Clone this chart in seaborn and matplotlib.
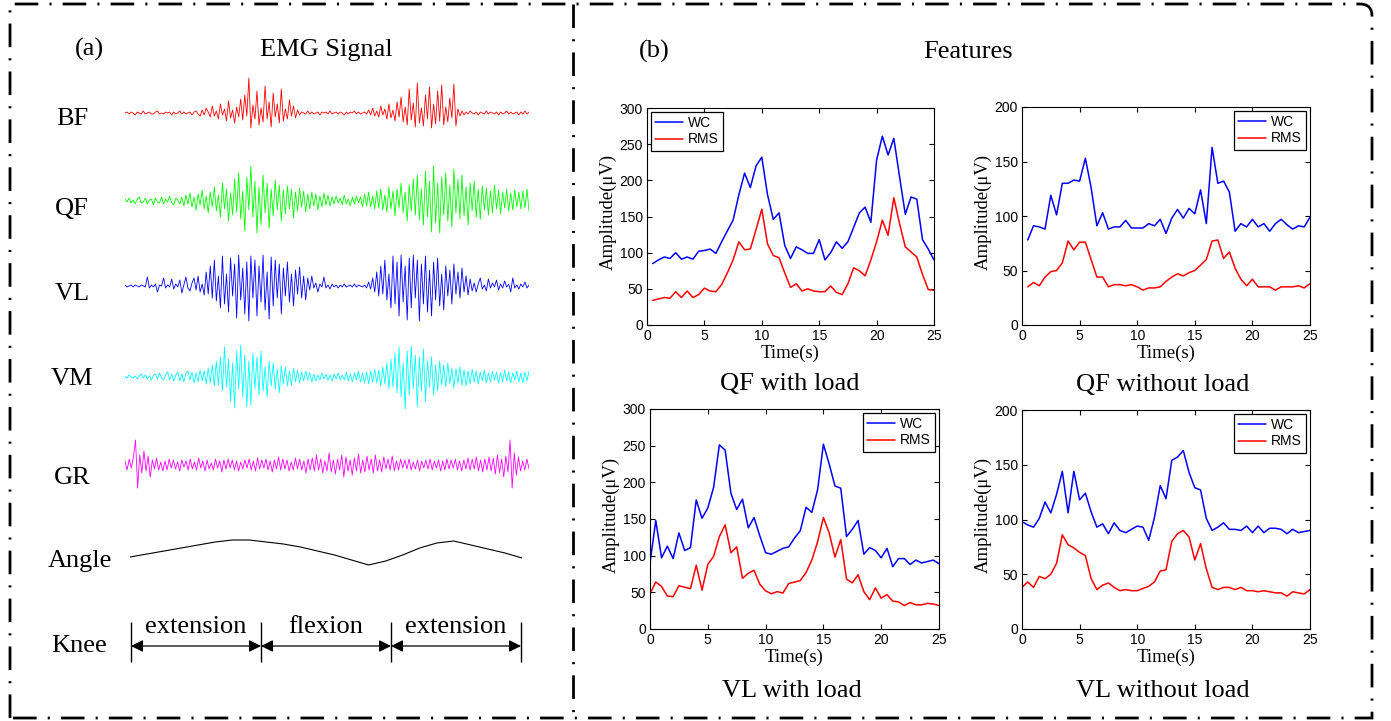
import numpy as np
import pandas as pd
import matplotlib
matplotlib.use("Agg")
import matplotlib.pyplot as plt
import seaborn as sns
from matplotlib.path import Path
from matplotlib.patches import PathPatch

# ---------------- data ----------------
# raw EMG traces (hand-read sample amplitudes, arbitrary units)
emg_bf = [0, 1, -1, 1, 0, -2, 1, 0, -1, 2, -1, 0, 1, -1, -1, 1, 2, -1, 0, -1, 1, 0, 1, -2, 1, -1, 0, 2, -1, 1, -1, 0, 1, -2, 1, 2, -1,
          -3, 3, -2, 5, 1, -4, 7, -3, 2, -6, 9, -2, 4, -8, 12, -5, 3, -10, 6, -4, 14, -7, 18, -3, 35, -15, 8, -6, 22, -12, 5, -9,
          27, -6, 11, -14, 20, -4, 9, -10, 24, -8, 4, -6, 13, -3, 7, -5, 3,
          -2, 1, 0, -1, 2, -1, 1, -1, 0, 1, -2, 1, 0, 1, -1, 2, -1, 0, 1, -1, 1, 0, -2, 1, -1, 1, 0, 2, -1, 1, -1, 0, 1, -1,
          3, -2, 5, -3, 2, -4, 7, -2, 4, -6, 9, -5, 3, -8, 11, -4, 16, -9, 6, -12, 24, -7, 10, -14, 30, -10, 5, -13, 18, -6,
          26, -15, 9, -11, 22, -8, 28, -12, 6, -9, 15, -5, 29, -13, 4, -3, 2,
          -2, 1, -1, 2, 0, -1, 1, -2, 1, 0, -1, 2, -1, 1, 0, -1, 1, -2, 1, -1, 0, 2, -1, 1, -1, 0, 1, -2, 1, -1, 2, -1, 1]
emg_qf = [2, -1, 3, -2, 1, -3, 2, 4, -2, -1, 3, -3, 1, 2, -4, 3, -1, -2, 4, -3, 2, -1, 5, -2, -4, 3, 1, -3, 4, -5,
          6, -3, 8, -6, 4, -9, 7, -4, 11, -8, 5, -12, 9, -6, 14, -10, 6, -16, 18, -8, 12, -20, 8, -14, 22, -11, 28, -18, 10, -30,
          24, -9, 35, -16, 20, -32, 14, -24, 26, -12, 18, -27, 12, -15, 21, -9, 16, -20, 11, -13, 15, -8, 12, -17, 9, -10, 13,
          -6, 10, -11, 7, -8, 9, -5, 7, -9, 5, -6, 8, -4, 6,
          -5, 4, -3, 5, -2, 3, -4, 6, -3, 2, -5, 4, -3, 5, -2, 4, -6,
          7, -5, 9, -6, 5, -8, 10, -7, 12, -9, 6, -11, 14, -8, 10, -15, 12, -7, 18, -12, 9, -20, 16, -10, 22, -14, 26, -19, 12,
          -24, 30, -16, 20, -31, 35, -22, 18, -32, 24, -14, 28, -20, 16, -26, 32, -12, 22, -18, 26, -15, 14, -24, 18, -10, 20,
          -16, 12, -18, 15, -9, 13, -14, 10, -12, 16, -8, 11, -13, 9, -7, 12, -10, 8, -9, 11, -6, 9, -8, 10, -7, 12, -10]
emg_vl = [1, -1, 0, 1, -1, 1, 0, -1, 1, 0,
          -1, 9, -2, 1, -1, 2, -6, 1, 0, 8, -2, 1, -1, 7, -3, 2, -1, 6, -7, 1, 9, -2, -5, 3, 8, -4, 10, -6, 2, -9,
          14, -8, 20, -12, 26, -15, 10, -22, 30, -18, 12, -26, 28, -10, 22, -32, 31, -14, 18, -28, 24, -35, 30, -12, 26, -30,
          20, -16, 31, -24, 14, -33, 29, -20, 26, -12, 22, -28, 18, -10, 24, -16, 12, -20, 16, -8, 19, -12, 10, -14, 8,
          -4, 10, -2, 3, -6, 2, -1, 9, -2, 1, -3, 2, -1, 1, -2,
          1, -1, 2, -1, 0, 1, -1, 2, -1, 1, 0, -1, 1, -2, 4, -3,
          8, -6, 14, -10, 20, -8, 26, -14, 12, -22, 30, -18, 24, -30, 31, -16, 20, -34, 28, -22, 31, -12, 26, -35, 22, -18,
          30, -26, 16, -30, 24, -14, 28, -20, 12, -24, 20, -10, 16, -18, 22, -8, 14, -12, 18, -6, 10, -9, 7, -5,
          3, -6, 2, 8, -3, 1, -5, 7, -2, 3, -1, 6, -4, 2, -2, 5, -1, 2, -6, 8, -2, 1, -3, 2, -1, 4, -2, 1]
emg_vm = [1, -1, 2, 0, -1, 1, -2, 1, 3, -1, 2, -2, 1, -3, 2, 3, -2, 4, -1, -3, 2, 5, -3, 3, -4, 2, 5, -4, 3, -5, 4, 6,
          -3, 5, -6, 4, -5, 7, -4, 6, -7,
          9, -6, 12, -9, 16, -8, 20, -14, 30, -10, 18, -24, 14, -31, 26, -12, 32, -20, 22, -30, 16, -28, 24, -12, 20, -18,
          26, -14, 10, -20, 16, -9, 14, -12, 8, -16, 11, -7, 10, -9, 6, -8, 9, -5, 7,
          -6, 5, -4, 6, -3, 4, -5, 3, -4, 2, -3, 4, -2, 3, -3, 2, -4, 3, -2, 4, -3, 2, -3, 5, -4, 3, -5, 4, -3, 6, -5, 4,
          -6, 5, -7, 6, -5, 8, -6, 7,
          -9, 10, -7, 14, -12, 18, -10, 24, -16, 30, -20, 14, -32, 26, -18, 31, -12, 22, -30, 20, -14, 28, -24, 16, -10,
          20, -18, 12, -14, 16, -8, 12, -10, 14, -7, 9, -11, 8, -6, 10, -8, 7, -9, 6, -7,
          8, -5, 6, -7, 5, -4, 7, -6, 4, -5, 6, -3, 5, -6, 4, -5, 7, -4, 5, -6, 4, -3, 6, -5, 4, -6, 5, -4, 6]
emg_gr = [4, -5, 6, -3, 8, 25, -23, 10, -8, 14, -6, 9, -12, 5, -4, 7, -5, 3, -6, 4, -5, 6, -3, 5, -4, 3, -6, 5, -2, 4,
          -5, 6, -4, 3, -5, 7, -3, 4, -6, 5, -4, 2, -5, 6, -3, 4, -7, 5, -4, 6, -3, 5, -5, 4, -6, 3, -4, 5, -3, 6,
          -5, 4, -6, 7, -4, 5, -3, 6, -5, 4, -7, 5, -4, 8, -5, 6, -4, 5, -6, 3, -5, 7, -4, 6, -5, 4, -8, 6, -5, 7,
          -6, 10, -5, 6, -8, 4, -6, 12, -7, 5, -9, 6, -5, 10, -12, 8, -6, 5, -10, 7, -6, 11, -8, 5, -7, 9, -5, 6,
          -8, 10, -6, 5, -7, 8, -4, 6, -5, 9, -6, 4, -5, 6, -3, 5, -4, 6, -5, 3, -4, 5, -6, 4, -3, 5, -4, 6, -5, 4,
          -3, 5, -6, 4, -5, 6, -4, 5, -3, 6, -5, 4, -6, 5, -4, 7, -5, 6, -4, 8, -6, 5, -7, 6, -5, 8, -6, 7, -9, 10,
          -8, 6, -12, 9, -7, 25, -23, 12, -10, 8, -6, 4, -5, 6, -4]
knee_angle = [8, 11, 14, 17, 20, 23, 25, 25, 23, 21, 18, 14, 10, 5, 0, 4, 10, 17, 22, 24, 20, 16, 12, 7]
knee_phases = ["extension", "flexion", "extension"]
knee_edges = [0, 1, 2, 3]
emg_labels = ["BF", "QF", "VL", "VM", "GR"]
emg_colors = ["#ff0000", "#00ff00", "#0000ff", "#00ffff", "#ff00ff"]

# features (WC / RMS, µV)
time_a = np.arange(0.5, 25.01, 0.5)   # QF recordings
time_b = np.arange(0.0, 25.01, 0.5)   # VL recordings
qf_load_wc = [85, 90, 94, 92, 100, 91, 94, 91, 102, 103,
              105, 99, 115, 130, 145, 180, 210, 190, 220, 232,
              180, 146, 155, 110, 92, 108, 104, 99, 99, 118,
              90, 100, 115, 106, 115, 135, 155, 163, 142, 228,
              261, 235, 258, 205, 153, 177, 174, 118, 105, 90]
qf_load_rms = [34, 36, 38, 37, 46, 38, 47, 38, 42, 51,
               47, 46, 56, 72, 90, 115, 104, 105, 132, 160,
               112, 96, 93, 72, 52, 57, 47, 50, 47, 46,
               46, 54, 45, 42, 57, 79, 75, 68, 90, 115,
               145, 124, 176, 140, 108, 101, 94, 70, 49, 48]
qf_free_wc = [78, 91, 90, 88, 119, 101, 130, 130, 133, 132,
              153, 126, 91, 103, 88, 90, 90, 96, 89, 89,
              89, 93, 91, 97, 84, 98, 106, 98, 107, 102,
              124, 93, 163, 130, 132, 122, 86, 93, 90, 97,
              90, 93, 86, 93, 97, 92, 88, 91, 90, 99]
qf_free_rms = [35, 39, 36, 44, 49, 50, 57, 77, 69, 76,
               76, 60, 44, 44, 35, 37, 37, 36, 37, 35,
               32, 34, 34, 35, 40, 44, 47, 45, 48, 50,
               55, 60, 77, 78, 61, 67, 52, 42, 36, 42,
               35, 35, 35, 32, 35, 35, 35, 36, 34, 38]
vl_load_wc = [90, 148, 97, 113, 96, 131, 107, 111, 176, 151,
              165, 193, 251, 244, 185, 163, 177, 138, 152, 127,
              104, 102, 106, 110, 112, 124, 134, 166, 159, 190,
              252, 225, 195, 192, 126, 136, 148, 102, 111, 107,
              97, 110, 85, 96, 96, 88, 94, 90, 92, 94, 89]
vl_load_rms = [48, 64, 58, 45, 44, 59, 57, 55, 87, 53,
               88, 99, 126, 142, 104, 112, 69, 76, 80, 61,
               52, 48, 51, 49, 62, 64, 66, 77, 94, 119,
               152, 131, 98, 122, 68, 63, 74, 51, 40, 56,
               42, 47, 38, 37, 32, 36, 33, 33, 35, 34, 32]
vl_free_wc = [98, 95, 93, 101, 116, 106, 123, 144, 106, 144,
              118, 124, 107, 93, 96, 87, 97, 90, 88, 91,
              94, 93, 81, 102, 131, 119, 154, 157, 163, 143,
              129, 127, 101, 90, 93, 97, 91, 91, 90, 94,
              88, 94, 88, 92, 92, 91, 87, 91, 88, 89, 90]
vl_free_rms = [38, 43, 38, 48, 46, 50, 60, 86, 77, 74,
               70, 67, 46, 36, 40, 42, 38, 35, 36, 35,
               35, 37, 39, 43, 53, 54, 80, 87, 90, 84,
               63, 78, 55, 38, 36, 38, 38, 36, 38, 35,
               35, 34, 35, 34, 33, 33, 30, 34, 33, 32, 36]
panel_titles = ["QF with load", "QF without load", "VL with load", "VL without load"]
series_names = ["WC", "RMS"]
series_colors = {"WC": "#0000ff", "RMS": "#ff0000"}

# ---------------- style ----------------
W, H = 1391, 721
sns.set_style("ticks")
plt.rcParams["font.family"] = ["Liberation Sans", "DejaVu Sans"]
plt.rcParams["lines.scale_dashes"] = False
for k in ["text.color", "axes.labelcolor", "xtick.color", "ytick.color", "axes.edgecolor"]:
    plt.rcParams[k] = "black"
SERIF = ["Liberation Serif", "DejaVu Serif"]

fig = plt.figure(figsize=(W / 100, H / 100), dpi=100)


def rect(l, t, r, b):
    return [l / W, 1 - b / H, (r - l) / W, (b - t) / H]


def ftext(x, y, s, size=19, ha="center"):
    fig.text(x / W, 1 - y / H, s, ha=ha, va="baseline", fontsize=size, family=SERIF)


# ---------------- frame ----------------
over = fig.add_axes([0, 0, 1, 1], zorder=-1)
over.set_xlim(0, W)
over.set_ylim(H, 0)
over.axis("off")
r = 12
verts = [(10, 718), (10, 4), (1372 - r, 4), (1372, 4), (1372, 4 + r), (1372, 718), (10, 718)]
codes = [Path.MOVETO, Path.LINETO, Path.LINETO, Path.CURVE3, Path.CURVE3, Path.LINETO, Path.LINETO]
ls = (0, (17, 8, 1.5, 8))
over.add_patch(PathPatch(Path(verts, codes), fill=False, lw=2, ls=ls, ec="black"))
over.plot([573, 573], [4, 718], color="black", lw=2, ls=ls)

# ---------------- panel (a) ----------------
ftext(89, 56, "(a)")
ftext(326, 56, "EMG Signal")

trace_centers = [113, 201, 286, 377, 465]
label_base = [125, 215, 300, 385, 484]
for vals, col, lab, cy, lb in zip([emg_bf, emg_qf, emg_vl, emg_vm, emg_gr], emg_colors,
                                  emg_labels, trace_centers, label_base):
    ax = fig.add_axes(rect(125, cy - 40, 529, cy + 40))
    df = pd.DataFrame({"t": np.arange(len(vals)), "v": vals})
    sns.lineplot(data=df, x="t", y="v", color=col, lw=0.6, ax=ax, estimator=None)
    ax.set_xlim(0, len(vals) - 1)
    ax.set_ylim(-40, 40)
    ax.axis("off")
    ftext(72, lb, lab)

# angle
axa = fig.add_axes(rect(130, 525, 522, 575))
dfa = pd.DataFrame({"t": np.arange(len(knee_angle)), "v": knee_angle})
sns.lineplot(data=dfa, x="t", y="v", color="black", lw=0.8, ax=axa, estimator=None)
axa.set_xlim(0, len(knee_angle) - 1)
axa.set_ylim(-10, 40)
axa.axis("off")
ftext(80, 567, "Angle")

# knee phases
axk = fig.add_axes(rect(131, 615, 521, 670))
axk.set_xlim(knee_edges[0], knee_edges[-1])
axk.set_ylim(670, 615)
axk.axis("off")
axk.vlines(knee_edges, 622, 662, color="black", lw=1, clip_on=False)
for i, ph in enumerate(knee_phases):
    axk.annotate("", xy=(knee_edges[i + 1], 646), xytext=(knee_edges[i], 646),
                 arrowprops=dict(arrowstyle="<|-|>,head_length=0.6,head_width=0.3", color="black",
                                 lw=0.9, shrinkA=0, shrinkB=0, mutation_scale=12), annotation_clip=False)
    axk.text((knee_edges[i] + knee_edges[i + 1]) / 2, 633, ph, ha="center", va="baseline",
             fontsize=19, family=SERIF)
ftext(79, 652, "Knee")

# ---------------- panel (b) ----------------
ftext(654, 58, "(b)")
ftext(968, 58, "Features")

panels = [
    (rect(647, 108, 934, 325), time_a, qf_load_wc, qf_load_rms, 300, "upper left", (790, 390)),
    (rect(1022, 107, 1310, 325), time_a, qf_free_wc, qf_free_rms, 200, "upper right", (1163, 391)),
    (rect(650, 409, 939, 629), time_b, vl_load_wc, vl_load_rms, 300, "upper right", (792, 697)),
    (rect(1022, 410, 1310, 629), time_b, vl_free_wc, vl_free_rms, 200, "upper right", (1163, 697)),
]
for (rc, t, wc, rms, ymax, loc, tpos), title in zip(panels, panel_titles):
    ax = fig.add_axes(rc)
    n = len(t)
    df = pd.DataFrame({"Time": np.concatenate([t, t]),
                       "Amp": list(wc) + list(rms),
                       "Feature": [series_names[0]] * n + [series_names[1]] * n})
    sns.lineplot(data=df, x="Time", y="Amp", hue="Feature", hue_order=series_names,
                 palette=series_colors, lw=1.1, ax=ax, estimator=None)
    ax.set_xlim(0, 25)
    ax.set_ylim(0, ymax)
    ax.set_xticks(range(0, 26, 5))
    ax.set_yticks(range(0, ymax + 1, 50))
    ax.tick_params(which="both", direction="in", top=True, right=True, length=3.5,
                   width=0.8, labelsize=10, pad=3)
    for s in ax.spines.values():
        s.set_visible(True)
        s.set_linewidth(0.8)
        s.set_color("black")
    ax.set_xlabel("Time(s)", family=SERIF, fontsize=13.5, labelpad=1)
    ax.set_ylabel("Amplitude(\u03bcV)", family=SERIF, fontsize=13.5)
    ax.yaxis.set_label_coords(-0.104, 0.52)
    sns.move_legend(ax, loc, title=None, frameon=True, fancybox=False, framealpha=1,
                    edgecolor="black", fontsize=10, borderpad=0.3, labelspacing=0.15,
                    handlelength=2.0, handletextpad=0.35, borderaxespad=0.3)
    ax.get_legend().get_frame().set_linewidth(0.9)
    ftext(tpos[0], tpos[1], title)

fig.savefig("out.png", dpi=100)
